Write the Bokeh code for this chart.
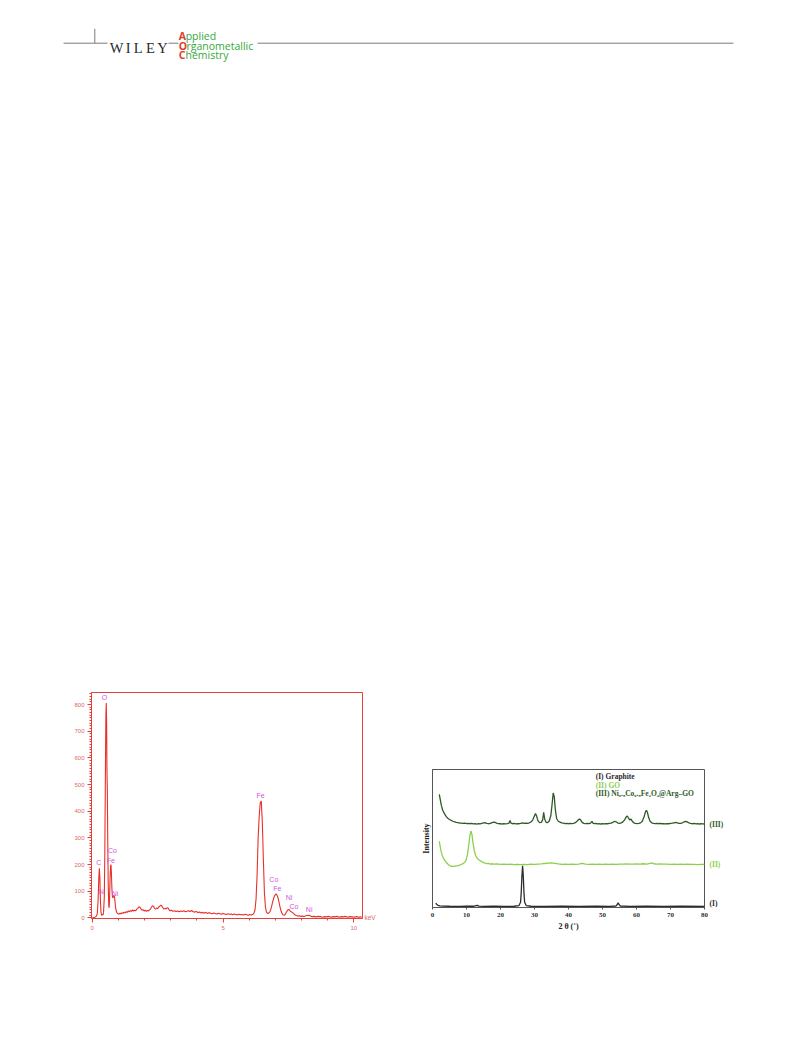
from bokeh.plotting import figure
from bokeh.models import Range1d, Spacer, Label, SingleIntervalTicker, FixedTicker, LinearAxis
from bokeh.layouts import column, row
from bokeh.embed import file_html
from bokeh.resources import INLINE
from bokeh.core.properties import value

# ---------------- EDX spectrum data (keV, counts) ----------------
energy_kev = [0.00, 0.05, 0.10, 0.15, 0.19, 0.22, 0.25, 0.27, 0.29, 0.31, 0.33, 0.35, 0.37, 0.39, 0.41,
              0.43, 0.46, 0.48, 0.50, 0.52, 0.535, 0.55, 0.56, 0.575, 0.59, 0.61, 0.63, 0.645, 0.66, 0.68,
              0.70, 0.715, 0.73, 0.75, 0.77, 0.79, 0.81, 0.83, 0.85, 0.87, 0.89, 0.92, 0.95, 0.98,
              1.02, 1.06, 1.10, 1.14, 1.18, 1.22, 1.26, 1.30, 1.34, 1.38, 1.42, 1.46, 1.50, 1.54, 1.58,
              1.62, 1.66, 1.70, 1.74, 1.78, 1.82, 1.86, 1.90, 1.94, 1.98, 2.02, 2.06, 2.10, 2.14, 2.18,
              2.22, 2.26, 2.30, 2.34, 2.38, 2.42, 2.46, 2.50, 2.54, 2.58, 2.62, 2.66, 2.70, 2.74, 2.78,
              2.82, 2.86, 2.90, 2.94, 2.98, 3.02, 3.08, 3.14, 3.20, 3.26, 3.32, 3.38, 3.44, 3.50, 3.56,
              3.62, 3.68, 3.74, 3.80, 3.86, 3.92, 3.98, 4.04, 4.10, 4.16, 4.22, 4.28, 4.34, 4.40, 4.46,
              4.52, 4.58, 4.64, 4.70, 4.76, 4.82, 4.88, 4.94, 5.00, 5.06, 5.12, 5.18, 5.24, 5.30, 5.36,
              5.42, 5.48, 5.54, 5.60, 5.66, 5.72, 5.78, 5.84, 5.90, 5.96, 6.02, 6.08, 6.14, 6.18, 6.22,
              6.26, 6.30, 6.34, 6.38, 6.42, 6.46, 6.50, 6.54, 6.58, 6.62, 6.66, 6.70, 6.74, 6.78, 6.82,
              6.86, 6.90, 6.94, 6.98, 7.02, 7.06, 7.10, 7.14, 7.18, 7.22, 7.26, 7.30, 7.34, 7.38, 7.42,
              7.46, 7.50, 7.54, 7.58, 7.62, 7.66, 7.70, 7.74, 7.80, 7.86, 7.92, 7.98, 8.04, 8.10, 8.16,
              8.22, 8.28, 8.34, 8.40, 8.48, 8.56, 8.64, 8.72, 8.80, 8.88, 8.96, 9.04, 9.12, 9.20, 9.28,
              9.36, 9.44, 9.52, 9.60, 9.68, 9.76, 9.84, 9.92, 10.00, 10.10, 10.20, 10.30]
counts = [1, 2, 3, 6, 15, 60, 150, 186, 150, 70, 25, 12, 10, 14, 12,
          20, 80, 250, 520, 760, 806, 720, 560, 480, 300, 120, 45, 38, 70, 150,
          195, 200, 170, 110, 80, 75, 82, 85, 78, 60, 40, 25, 18, 16,
          14, 18, 15, 20, 17, 22, 19, 24, 21, 27, 23, 28, 25, 30, 26,
          29, 27, 33, 36, 42, 40, 34, 29, 31, 26, 29, 25, 28, 26, 30,
          33, 40, 46, 44, 36, 33, 37, 35, 41, 44, 48, 45, 38, 33, 36,
          34, 38, 37, 30, 27, 29, 25, 27, 24, 26, 23, 26, 24, 27, 23,
          25, 27, 24, 28, 23, 22, 24, 20, 22, 19, 21, 18, 21, 17, 20,
          18, 16, 19, 17, 15, 18, 16, 14, 17, 15, 13, 16, 14, 15, 12,
          15, 13, 11, 14, 12, 13, 11, 14, 12, 10, 13, 11, 14, 18, 30,
          70, 160, 300, 380, 432, 438, 360, 220, 95, 40, 22, 17, 18, 22, 30,
          45, 62, 76, 85, 90, 86, 76, 58, 40, 25, 16, 11, 10, 14, 22,
          28, 32, 30, 24, 22, 20, 16, 12, 9, 7, 8, 6, 7, 5, 8,
          9, 10, 7, 5, 6, 4, 6, 5, 3, 5, 4, 6, 3, 5, 4,
          6, 3, 5, 4, 6, 3, 5, 4, 3, 5, 3, 4]

edx_labels = ["O", "C", "N", "Co", "Fe", "Ni", "Fe", "Co", "Fe", "Ni", "Co", "Ni"]
edx_label_kev = [0.47, 0.25, 0.34, 0.77, 0.71, 0.87, 6.43, 6.94, 7.07, 7.52, 7.71, 8.29]
edx_label_cnt = [828, 207, 98, 252, 217, 90, 459, 145, 111, 78, 42, 32]
edx_unit = "keV"

# ---------------- XRD data (2θ, relative intensity) ----------------
tt_graphite = [1.0, 1.2, 1.6, 2.2, 3, 5, 8, 10, 12, 12.8, 13.2, 13.6, 15, 18, 21, 24, 25.4, 25.9, 26.1,
               26.3, 26.5, 26.7, 26.9, 27.1, 27.6, 29, 33, 38, 43, 48, 52, 54.0, 54.4, 54.6, 54.8, 55.2,
               58, 63, 68, 73, 80]
int_graphite = [2.5, 1.5, 0.8, 0.4, 0.2, 0.1, 0.0, 0.1, 0.1, 0.6, 0.8, 0.2, 0.0, 0.1, 0.0, 0.1, 0.5, 3, 10,
                22, 29.5, 22, 10, 3, 0.5, 0.1, 0.0, 0.1, 0.0, 0.1, 0.0, 0.3, 1.6, 2.6, 1.6, 0.3,
                0.0, 0.1, 0.0, 0.1, 0.0]

tt_go = [2.0, 2.2, 2.5, 2.9, 3.4, 4.0, 4.5, 5.0, 5.5, 6.0, 6.5, 7.0, 7.5, 8.0, 8.5, 9.0, 9.5, 9.9, 10.3,
         10.7, 11.0, 11.3, 11.6, 11.9, 12.3, 12.7, 13.2, 13.8, 14.5, 15.0, 15.5, 16.0, 16.5, 17.0, 17.5,
         18, 19, 20, 21, 22, 23, 24, 25, 26, 27, 28, 29, 30, 31, 32, 33, 34, 35, 36, 37, 38, 39, 40, 41,
         42, 43, 44, 45, 46, 47, 48, 49, 50, 51, 52, 53, 54, 55, 56, 57, 58, 59, 60, 61, 62, 63, 64, 64.5,
         65, 66, 67, 68, 69, 70, 71, 72, 73, 74, 75, 76, 77, 78, 79, 80]
int_go = [17, 14, 10, 6.5, 3.8, 1.8, 0.5, -0.6, -1.1, -1.2, -1.1, -0.9, -0.6, -0.3, 0.2, 0.8, 1.8, 3.5, 7.5,
          15, 21, 24.5, 22, 16, 10, 6.5, 4.5, 3.2, 2.2, 1.5, 1.2, 0.8, 0.9, 0.5, 0.7,
          0.4, 0.6, 0.3, 0.5, 0.2, 0.4, 0.1, 0.3, 0.0, 0.3, 0.1, 0.4, 0.2, 0.5, 0.6, 0.9, 1.1, 1.3, 1.0, 0.6,
          0.3, 0.5, 0.2, 0.4, 0.3, 0.5, 1.0, 0.4, 0.2, 0.5, 0.3, 0.4, 0.2, 0.5, 0.3, 0.4, 0.2, 0.5, 0.4, 0.6,
          0.4, 0.5, 0.6, 0.4, 0.7, 0.5, 0.9, 1.3, 0.7, 0.5, 0.6, 0.4, 0.5, 0.3, 0.5, 0.3, 0.4, 0.2, 0.4, 0.2,
          0.3, 0.1, 0.3, 0.2]

tt_ferrite = [2.0, 2.3, 2.6, 3.0, 3.5, 4.0, 4.5, 5.0, 5.5, 6.0, 6.5, 7.0, 7.5, 8.0, 8.5, 9.0, 9.5, 10.0,
              10.5, 11.0, 11.5, 12.0, 12.5, 13.0, 13.5, 14.0, 14.5, 15.0, 15.5, 16.0, 16.5, 17.0, 17.5,
              18.0, 18.5, 19.0, 19.5, 20.0, 20.5, 21.0, 21.5, 22.0, 22.5, 22.8, 23.1, 23.5, 24.0, 24.5,
              25.0, 25.5, 26.0, 26.5, 27.0, 27.5, 28.0, 28.5, 29.0, 29.5, 30.0, 30.3, 30.6, 31.0, 31.5,
              32.0, 32.4, 32.7, 33.0, 33.4, 33.8, 34.3, 34.8, 35.2, 35.5, 35.8, 36.1, 36.5, 37.0, 37.5,
              38.0, 38.5, 39.0, 39.5, 40.0, 40.5, 41.0, 41.5, 42.0, 42.5, 43.0, 43.3, 43.6, 44.0, 44.5,
              45.0, 45.5, 46.0, 46.5, 46.9, 47.2, 47.6, 48.0, 48.5, 49.0, 49.5, 50.0, 50.5, 51.0, 51.5,
              52.0, 52.5, 53.0, 53.6, 54.0, 54.5, 55.0, 55.5, 56.0, 56.5, 57.0, 57.3, 57.6, 58.0, 58.4,
              58.7, 59.2, 59.7, 60.2, 60.7, 61.2, 61.7, 62.2, 62.6, 62.9, 63.2, 63.6, 64.0, 64.5, 65.0,
              65.5, 66.0, 66.5, 67.0, 67.5, 68.0, 68.5, 69.0, 69.5, 70.0, 70.5, 71.0, 71.5, 72.0, 72.5,
              73.0, 73.5, 74.0, 74.5, 75.0, 75.5, 76.0, 76.5, 77.0, 77.5, 78.0, 78.5, 79.0, 79.5, 80.0]
int_ferrite = [21.5, 17.5, 13.5, 10, 7.5, 5.5, 4.2, 3.3, 2.6, 2.0, 1.6, 1.2, 1.0, 0.7, 0.6, 0.4, 0.6, 0.3,
               0.5, 0.2, 0.4, 0.1, 0.3, 0.0, 0.3, 0.1, 0.5, 0.8, 0.9, 0.5, 0.2, 0.4, 1.0,
               1.3, 1.1, 0.5, 0.2, 0.3, 0.0, 0.2, 0.1, 0.3, 0.6, 2.5, 0.6, 0.2, 0.4, 0.1,
               0.3, 0.2, 0.5, 0.8, 0.4, 0.6, 0.5, 0.9, 1.5, 3.0, 6.0, 7.5, 6.0, 2.5, 1.0,
               1.2, 3.0, 8.5, 3.5, 1.2, 1.0, 2.0, 6.0, 15.0, 22.5, 20.0, 11.0, 4.0, 2.0, 1.4,
               0.8, 0.6, 0.3, 0.5, 0.2, 0.4, 0.3, 0.5, 1.0, 2.0, 3.3, 3.6, 2.8, 1.2, 0.5,
               0.3, 0.5, 0.2, 0.6, 1.9, 0.6, 0.2, 0.4, 0.1, 0.3, 0.0, 0.2, 0.1, 0.3, 0.2,
               0.4, 0.6, 1.2, 2.0, 1.6, 0.7, 0.5, 0.8, 1.5, 3.0, 5.2, 5.8, 4.5, 3.0, 3.5,
               2.2, 0.9, 0.5, 0.3, 0.4, 0.8, 2.0, 5.0, 8.5, 10.0, 8.5, 4.5, 2.0, 0.9, 0.5,
               0.3, 0.5, 0.2, 0.4, 0.2, 0.3, 0.1, 0.3, 0.2, 0.4, 0.6, 0.9, 1.1, 0.8, 0.4,
               0.5, 0.9, 1.5, 1.9, 1.4, 0.7, 0.4, 0.2, 0.4, 0.1, 0.3, 0.0, 0.2, 0.1, 0.0]

xrd_names = ["(I)", "(II)", "(III)"]
xrd_legend = ["(I) Graphite", "(II) GO", "(III) Ni\u2080.\u2085Co\u2080.\u2085Fe\u2082O\u2084@Arg\u2013GO"]
xrd_offsets = [0.8, 31.0, 60.5]
xrd_colors = ["#2b2b2b", "#8ccf4d", "#2f5a27"]

# ---------------- header (coordinates = page pixels) ----------------
hdr = figure(width=785, height=62, x_range=Range1d(0, 785), y_range=Range1d(62, 0),
             x_axis_location=None, y_axis_location=None, toolbar_location=None,
             output_backend="svg", min_border=0, outline_line_color=None)
hdr.grid.visible = False
hdr.segment(x0=[63, 168, 257], y0=[42.7, 42.7, 42.7], x1=[107, 178, 733], y1=[42.7, 42.7, 42.7],
            line_color="#6d6d6d", line_width=0.9)
hdr.segment(x0=[94.3], y0=[28.3], x1=[94.3], y1=[42.7], line_color="#6d6d6d", line_width=0.9)
hdr.text(x=[116, 127.7, 137.7, 150, 162], y=[47.5] * 5, text=["W", "I", "L", "E", "Y"],
         text_font=value("Liberation Serif"), text_font_size="14.5px", text_color="#2a2a2a",
         text_align="center", text_baseline="alphabetic")
hdr.text(x=[178.3, 178.3, 178.3], y=[35, 45, 54.3], text=["A", "O", "C"],
         text_font=value("Open Sans"), text_font_size="10.5px", text_color="#e23b2b",
         text_font_style="bold", text_align="left", text_baseline="alphabetic")
hdr.text(x=[185.2, 186.0, 185.0], y=[35, 45, 54.3], text=["pplied", "rganometallic", "hemistry"],
         text_font=value("Open Sans"), text_font_size="10.5px", text_color="#35a83c",
         text_align="left", text_baseline="alphabetic")

# ---------------- shared vertical borders (row aligns them) ----------------
B_TOP, B_BOTTOM = 12, 27

# ---------------- EDX figure ----------------
red = "#e4403a"
EDX_L, EDX_R, EDX_W, EDX_H = 31, 22, 271, 226
edx = figure(width=EDX_L + EDX_W + EDX_R, height=B_TOP + EDX_H + B_BOTTOM,
             x_range=Range1d(-0.03, 10.33), y_range=Range1d(-2, 845),
             toolbar_location=None, output_backend="svg",
             min_border_left=EDX_L, min_border_right=EDX_R, min_border_top=B_TOP, min_border_bottom=B_BOTTOM)
edx.grid.visible = False
edx.outline_line_color = red
edx.outline_line_width = 1
edx.line(energy_kev, counts, line_color="#e8302a", line_width=1.1)
edx.text(x=edx_label_kev, y=edx_label_cnt, text=edx_labels, text_font=value("Liberation Sans"),
         text_font_size="7px", text_color="#cf55de", text_align="center", text_baseline="middle")
edx.xaxis.ticker = SingleIntervalTicker(interval=5, num_minor_ticks=5)
edx.yaxis.ticker = SingleIntervalTicker(interval=100, num_minor_ticks=10)
for ax in (edx.xaxis, edx.yaxis):
    ax.axis_line_color = red
    ax.major_tick_line_color = red
    ax.minor_tick_line_color = red
    ax.major_tick_out = 4
    ax.major_tick_in = 0
    ax.minor_tick_out = 2
    ax.minor_tick_in = 0
    ax.major_label_text_color = "#d86a6a"
    ax.major_label_text_font = "Liberation Sans"
    ax.major_label_text_font_size = "6px"
    ax.major_label_standoff = 3
# unit label at the right end of the energy axis (a right axis with one tick at 0)
unit_axis = LinearAxis(ticker=FixedTicker(ticks=[0]), major_label_overrides={0: edx_unit},
                       axis_line_color=None, major_tick_line_color=None, minor_tick_line_color=None,
                       major_tick_out=0, major_tick_in=0, minor_tick_out=0, minor_tick_in=0,
                       major_label_text_color="#d86a6a", major_label_text_font="Liberation Sans",
                       major_label_text_font_size="6.5px", major_label_standoff=2)
edx.add_layout(unit_axis, "right")

# ---------------- XRD figure ----------------
frame_c = "#555555"
XRD_L, XRD_R, XRD_W, XRD_H = 32, 4, 272, 138
xrd_y = Range1d(0, 100)
xrd = figure(width=XRD_L + XRD_W + XRD_R, height=B_TOP + XRD_H + B_BOTTOM,
             x_range=Range1d(0, 80), y_range=xrd_y,
             toolbar_location=None, output_backend="svg",
             min_border_left=XRD_L, min_border_right=XRD_R, min_border_top=B_TOP, min_border_bottom=B_BOTTOM)
xrd.grid.visible = False
xrd.outline_line_color = frame_c
xrd.outline_line_width = 1
series = [(tt_graphite, int_graphite), (tt_go, int_go), (tt_ferrite, int_ferrite)]
for (tt, inten), off, col in zip(series, xrd_offsets, xrd_colors):
    xrd.line(tt, [v + off for v in inten], line_color=col, line_width=1.3)
for i, (txt, col) in enumerate(zip(xrd_legend, xrd_colors)):
    xrd.add_layout(Label(x=48, y=94.6 - 6.1 * i, text=txt, text_font="Liberation Serif",
                         text_font_style="bold", text_font_size="7.5px", text_color=col,
                         text_baseline="middle"))
xrd.xaxis.ticker = SingleIntervalTicker(interval=10, num_minor_ticks=0)
xrd.xaxis.axis_label = "2 \u03b8 (\u02da)"
xrd.yaxis.ticker = FixedTicker(ticks=[])
xrd.yaxis.axis_label = "Intensity"
for ax in (xrd.xaxis, xrd.yaxis):
    ax.axis_line_color = frame_c
    ax.major_tick_line_color = frame_c
    ax.minor_tick_line_color = None
    ax.major_tick_out = 2
    ax.major_tick_in = 0
    ax.major_label_text_font = "Liberation Serif"
    ax.major_label_text_font_style = "bold"
    ax.major_label_text_font_size = "7px"
    ax.major_label_text_color = "#333333"
    ax.major_label_standoff = 3
    ax.axis_label_text_font = "Liberation Serif"
    ax.axis_label_text_font_style = "bold"
    ax.axis_label_text_font_size = "8px"
    ax.axis_label_text_color = "#222222"
    ax.axis_label_standoff = 2

# curve names to the right of the XRD frame (narrow companion plot sharing the y range)
LAB_W = 22
lab = figure(width=LAB_W, height=B_TOP + XRD_H + B_BOTTOM, x_range=Range1d(0, LAB_W), y_range=xrd_y,
             x_axis_location=None, y_axis_location=None, toolbar_location=None, output_backend="svg",
             min_border_left=0, min_border_right=0, min_border_top=B_TOP, min_border_bottom=B_BOTTOM,
             outline_line_color=None)
lab.grid.visible = False
lab.text(x=[1] * 3, y=xrd_offsets, text=xrd_names, text_color=xrd_colors,
         y_offset=[-3, 0, 0],
         text_font=value("Liberation Serif"), text_font_style="bold", text_font_size="7.5px",
         text_align="left", text_baseline="middle")

layout = column(hdr, Spacer(height=680 - 62),
                row(Spacer(width=60), edx, Spacer(width=16),
                    column(Spacer(height=77), row(xrd, lab))))

open("out.html", "w").write(file_html(layout, INLINE))
